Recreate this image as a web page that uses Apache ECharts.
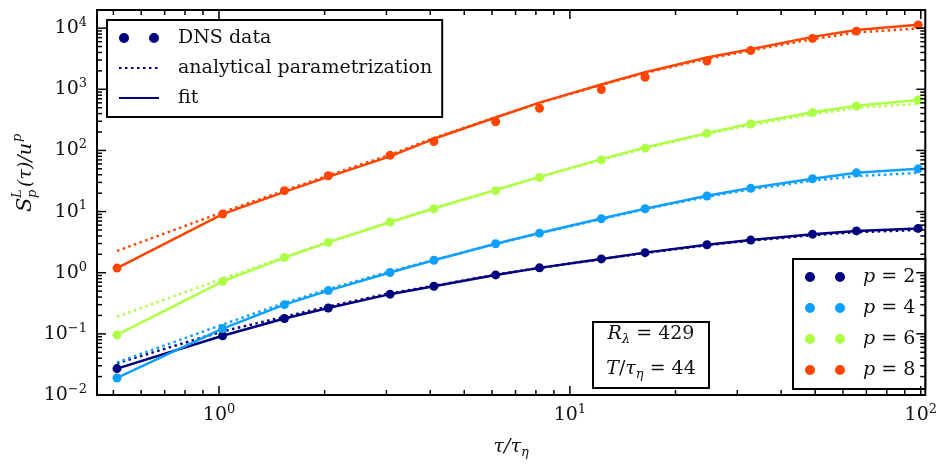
<!DOCTYPE html>
<html>
<head>
<meta charset="utf-8">
<script src="https://cdn.jsdelivr.net/npm/echarts@6/dist/echarts.min.js"></script>
<style>
html, body { margin: 0; padding: 0; background: #fff; }
#chart { width: 940px; height: 464px; }
</style>
</head>
<body>
<div id="chart"></div>
<script>
// time lags tau / tau_eta
var tau = [0.512, 1.024, 1.536, 2.048, 3.072, 4.096, 6.144, 8.192, 12.29, 16.38, 24.58, 32.77, 49.15, 65.54, 98.3];

// DNS data
var dnsP2 = [0.027, 0.093, 0.178, 0.265, 0.446, 0.60, 0.92, 1.2, 1.68, 2.13, 2.87, 3.42, 4.27, 4.83, 5.3];
var dnsP4 = [0.019, 0.122, 0.30, 0.51, 1.01, 1.6, 2.98, 4.43, 7.64, 11.1, 18, 24, 34.4, 43, 50];
var dnsP6 = [0.096, 0.72, 1.77, 3.13, 6.76, 11.1, 22, 36, 70, 109, 191, 270, 417, 533, 667];
var dnsP8 = [1.19, 9.1, 22, 38.5, 83, 140, 294, 490, 993, 1570, 2890, 4300, 6800, 8930, 11300];

// fit
var fitP2 = [0.027, 0.093, 0.178, 0.265, 0.446, 0.60, 0.92, 1.2, 1.68, 2.13, 2.87, 3.42, 4.27, 4.83, 5.3];
var fitP4 = [0.019, 0.122, 0.30, 0.51, 1.01, 1.6, 2.98, 4.45, 7.7, 11.1, 18.2, 24.2, 34.5, 43, 50];
var fitP6 = [0.096, 0.72, 1.77, 3.13, 6.7, 11.2, 22.5, 37, 72, 112, 192, 275, 420, 540, 670];
var fitP8 = [1.19, 9.1, 21, 37, 80, 155, 345, 605, 1200, 1900, 3300, 4500, 7200, 9300, 11400];

// analytical parametrization
var anaP2 = [0.033, 0.11, 0.19, 0.28, 0.46, 0.61, 0.93, 1.2, 1.67, 2.1, 2.82, 3.35, 4.1, 4.6, 5.0];
var anaP4 = [0.034, 0.142, 0.32, 0.54, 1.05, 1.62, 2.95, 4.4, 7.5, 10.9, 17.5, 23, 32, 38, 43];
var anaP6 = [0.19, 0.8, 1.8, 3.2, 6.8, 11.5, 22.5, 36.5, 70, 108, 185, 260, 390, 495, 580];
var anaP8 = [2.27, 9.8, 22, 39, 85, 160, 350, 600, 1180, 1850, 3150, 4300, 6600, 8500, 9900];

var orderNames = ['p = 2', 'p = 4', 'p = 6', 'p = 8'];
var orderColors = ['#000080', '#0FA0FF', '#ADFF45', '#FF4500'];
var dnsAll = [dnsP2, dnsP4, dnsP6, dnsP8];
var fitAll = [fitP2, fitP4, fitP6, fitP8];
var anaAll = [anaP2, anaP4, anaP6, anaP8];

var xRange = [0.449, 103];
var yRange = [0.01, 19800];
var xMajor = [1, 10, 100];
var yMajor = [0.01, 0.1, 1, 10, 100, 1000, 10000];

var serif = '"DejaVu Serif", serif';
var twoDots = 'path://M0,5a5,5 0 1,0 10,0a5,5 0 1,0 -10,0zM30,5a5,5 0 1,0 10,0a5,5 0 1,0 -10,0z';

function pairs(ys) {
    return tau.map(function (t, i) { return [t, ys[i]]; });
}

function minorTicks(range) {
    var out = [];
    for (var e = Math.floor(Math.log10(range[0])); e <= Math.ceil(Math.log10(range[1])); e++) {
        for (var m = 2; m <= 9; m++) {
            var v = m * Math.pow(10, e);
            if (v > range[0] && v < range[1]) out.push(v);
        }
    }
    return out;
}

// tick marks on all four sides, pointing in
function tickSeries(major, minor, dir) {
    var data = major.map(function (v) { return [v, 9]; })
        .concat(minor.map(function (v) { return [v, 5]; }));
    return {
        type: 'custom',
        silent: true,
        z: 10,
        data: data.map(function (d) { return dir === 'x' ? [d[0], 1, d[1]] : [1, d[0], d[1]]; }),
        renderItem: function (params, api) {
            var cs = params.coordSys;
            var len = api.value(2);
            var st = { stroke: '#000', lineWidth: 1.5 };
            if (dir === 'x') {
                var x = api.coord([api.value(0), 1])[0];
                return { type: 'group', children: [
                    { type: 'line', shape: { x1: x, y1: cs.y + cs.height, x2: x, y2: cs.y + cs.height - len }, style: st },
                    { type: 'line', shape: { x1: x, y1: cs.y, x2: x, y2: cs.y + len }, style: st }
                ] };
            }
            var y = api.coord([1, api.value(1)])[1];
            return { type: 'group', children: [
                { type: 'line', shape: { x1: cs.x, y1: y, x2: cs.x + len, y2: y }, style: st },
                { type: 'line', shape: { x1: cs.x + cs.width, y1: y, x2: cs.x + cs.width - len, y2: y }, style: st }
            ] };
        }
    };
}

function powLabel(v) {
    var e = Math.log10(v);
    var r = Math.round(e);
    if (Math.abs(e - r) > 1e-6) return '';
    return '{b|10}{s|' + (r < 0 ? '\u2212' + (-r) : r) + '}';
}

var labelRich = {
    b: { fontFamily: serif, fontSize: 19, lineHeight: 24, color: '#111' },
    s: { fontFamily: serif, fontSize: 13, lineHeight: 14, verticalAlign: 'top', color: '#111' }
};

var series = [];
orderNames.forEach(function (name, i) {
    series.push({
        name: name, type: 'scatter', data: pairs(dnsAll[i]),
        symbolSize: 9, itemStyle: { color: orderColors[i], opacity: 1 }, z: 4
    });
    series.push({
        name: 'fit ' + name, type: 'line', data: pairs(fitAll[i]),
        symbol: 'none', lineStyle: { color: orderColors[i], width: 2.5 }, z: 3
    });
    series.push({
        name: 'analytical ' + name, type: 'line', data: pairs(anaAll[i]),
        symbol: 'none', lineStyle: { color: orderColors[i], width: 2.5, type: [2.5, 3.5] }, z: 3
    });
});
// legend-only entries
series.push({ name: 'DNS data', type: 'scatter', data: [], itemStyle: { color: '#000080', opacity: 1 } });
series.push({ name: 'analytical parametrization', type: 'line', data: [], symbol: 'none',
    lineStyle: { color: '#000080', width: 2.5, type: [2.5, 3.5] }, itemStyle: { color: '#000080' } });
series.push({ name: 'fit', type: 'line', data: [], symbol: 'none',
    lineStyle: { color: '#000080', width: 2.5 }, itemStyle: { color: '#000080' } });
series.push(tickSeries(xMajor, minorTicks(xRange), 'x'));
series.push(tickSeries(yMajor, minorTicks(yRange), 'y'));

var chart = echarts.init(document.getElementById('chart'));
var option = {
    animation: false,
    backgroundColor: '#fff',
    grid: {
        left: 97, top: 10, width: 835, height: 389,
        show: true, borderColor: '#000', borderWidth: 2, backgroundColor: 'transparent'
    },
    xAxis: {
        type: 'log', min: xRange[0], max: xRange[1],
        axisLine: { show: false }, axisTick: { show: false }, splitLine: { show: false },
        axisLabel: { margin: 8, formatter: powLabel, rich: labelRich },
        name: '{i|\u03c4/\u03c4}{sub|\u03b7}',
        nameLocation: 'middle', nameGap: 40,
        nameTextStyle: {
            rich: {
                i: { fontFamily: serif, fontSize: 19, fontStyle: 'italic', lineHeight: 24, color: '#111' },
                sub: { fontFamily: serif, fontSize: 13, fontStyle: 'italic', lineHeight: 8, verticalAlign: 'bottom', color: '#111' }
            }
        }
    },
    yAxis: {
        type: 'log', min: yRange[0], max: yRange[1],
        axisLine: { show: false }, axisTick: { show: false }, splitLine: { show: false },
        axisLabel: { margin: 10, formatter: powLabel, rich: labelRich }
    },
    legend: [{
        data: [
            { name: 'DNS data', icon: twoDots },
            { name: 'analytical parametrization', itemStyle: { opacity: 0 } },
            { name: 'fit', itemStyle: { opacity: 0 } }
        ],
        orient: 'vertical', left: 107, top: 20,
        padding: [7, 10, 8, 11], itemGap: 8, itemWidth: 40, itemHeight: 10,
        borderColor: '#000', borderWidth: 2, backgroundColor: '#fff',
        selectedMode: false,
        textStyle: { fontFamily: serif, fontSize: 19, lineHeight: 22, color: '#111', padding: [0, 0, 0, 14] }
    }, {
        data: orderNames.map(function (n) { return { name: n, icon: twoDots }; }),
        orient: 'vertical', left: 793, top: 259,
        padding: [7, 10, 8, 12], itemGap: 9, itemWidth: 40, itemHeight: 10,
        borderColor: '#000', borderWidth: 2, backgroundColor: '#fff',
        selectedMode: false,
        formatter: function (n) { return '{i|p}{n|' + n.slice(1) + '}'; },
        textStyle: {
            fontFamily: serif, fontSize: 19, lineHeight: 22, color: '#111', padding: [0, 0, 0, 13],
            rich: {
                i: { fontFamily: serif, fontSize: 19, fontStyle: 'italic', lineHeight: 22, color: '#111' },
                n: { fontFamily: serif, fontSize: 19, lineHeight: 22, color: '#111' }
            }
        }
    }],
    graphic: [
        {
            type: 'rect', z: 20,
            shape: { x: 593, y: 322, width: 116, height: 66 },
            style: { fill: '#fff', stroke: '#000', lineWidth: 2 }
        },
        {
            type: 'text', z: 21, x: 651, y: 334,
            style: {
                text: '{i|R}{sub|\u03bb}{n| = 429}', align: 'center', verticalAlign: 'middle',
                rich: {
                    i: { fontFamily: serif, fontSize: 19, fontStyle: 'italic', lineHeight: 24, fill: '#111' },
                    n: { fontFamily: serif, fontSize: 19, lineHeight: 24, fill: '#111' },
                    sub: { fontFamily: serif, fontSize: 13, fontStyle: 'italic', lineHeight: 8, verticalAlign: 'bottom', fill: '#111' }
                }
            }
        },
        {
            type: 'text', z: 21, x: 651, y: 369,
            style: {
                text: '{i|T}{n|/}{i|\u03c4}{sub|\u03b7}{n| = 44}', align: 'center', verticalAlign: 'middle',
                rich: {
                    i: { fontFamily: serif, fontSize: 19, fontStyle: 'italic', lineHeight: 24, fill: '#111' },
                    n: { fontFamily: serif, fontSize: 19, lineHeight: 24, fill: '#111' },
                    sub: { fontFamily: serif, fontSize: 13, fontStyle: 'italic', lineHeight: 8, verticalAlign: 'bottom', fill: '#111' }
                }
            }
        },
        {
            // y axis title, reading bottom to top
            type: 'group', x: 26, y: 212, rotation: Math.PI / 2,
            children: [
                { type: 'text', x: 0, y: 0, style: { text: 'S', font: 'italic 21px ' + serif, fill: '#111', verticalAlign: 'middle' } },
                { type: 'text', x: 14, y: -8, style: { text: 'L', font: 'italic 13px ' + serif, fill: '#111', verticalAlign: 'middle' } },
                { type: 'text', x: 14, y: 7, style: { text: 'p', font: 'italic 13px ' + serif, fill: '#111', verticalAlign: 'middle' } },
                { type: 'text', x: 25, y: 0, style: { text: '(\u03c4)/u', font: 'italic 19px ' + serif, fill: '#111', verticalAlign: 'middle' } },
                { type: 'text', x: 70, y: -8, style: { text: 'p', font: 'italic 13px ' + serif, fill: '#111', verticalAlign: 'middle' } }
            ]
        }
    ],
    series: series
};
chart.setOption(option);
</script>
</body>
</html>
